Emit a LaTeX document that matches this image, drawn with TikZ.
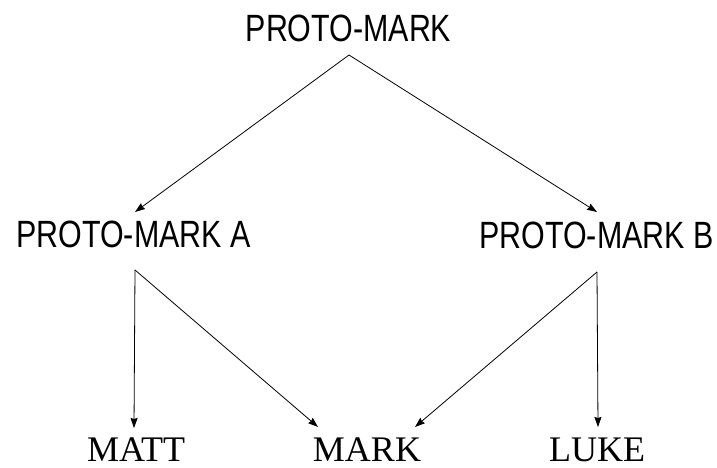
\documentclass[tikz,border=0pt]{standalone}
\usepackage{fontspec}
\setmainfont{Liberation Serif}
\newfontfamily\labsans{Liberation Sans}
\usetikzlibrary{arrows.meta}
\begin{document}
\begin{tikzpicture}[x=1pt,y=1pt,
  sanslab/.style={anchor=base,inner sep=0pt,font=\labsans\fontsize{38}{40}\selectfont},
  serlab/.style={anchor=base,inner sep=0pt,font=\fontsize{36}{38}\selectfont},
  conn/.style={line width=0.8pt,-{Stealth[length=10pt,width=7pt,inset=1pt]}}]
\useasboundingbox (0,0) rectangle (717,468);
\node[sanslab] (top) at (348.5,426) {\scalebox{0.8}[1]{PROTO-MARK}};
\node[sanslab] (pa) at (133.5,220) {\scalebox{0.8}[1]{PROTO-MARK A}};
\node[sanslab] (pb) at (596.5,219) {\scalebox{0.8}[1]{PROTO-MARK B}};
\node[serlab] (matt) at (136,6) {MATT};
\node[serlab] (mark) at (367,6) {MARK};
\node[serlab] (luke) at (597,6) {LUKE};
\coordinate (topout) at (349,413);
\coordinate (pain) at (135,256);
\coordinate (pbin) at (597,256);
\coordinate (paout) at (135,198);
\coordinate (pbout) at (597,196);
\coordinate (mattin) at (134,40);
\coordinate (markinA) at (318,41);
\coordinate (markinB) at (415,41);
\coordinate (lukein) at (598,41);
\draw[conn] (topout) -- (pain);
\draw[conn] (topout) -- (pbin);
\draw[conn] (paout) -- (mattin);
\draw[conn] (paout) -- (markinA);
\draw[conn] (pbout) -- (markinB);
\draw[conn] (pbout) -- (lukein);
\end{tikzpicture}
\end{document}
